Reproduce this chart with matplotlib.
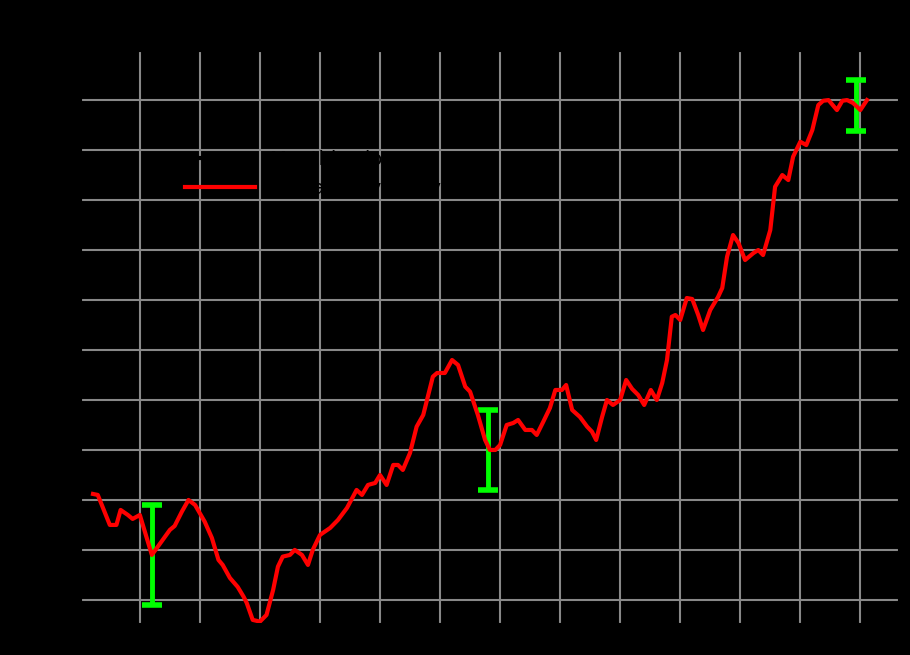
import matplotlib.pyplot as plt
from matplotlib.lines import Line2D

# smoothed index (decimal year, value)
years = [2007.22, 2007.30, 2007.50, 2007.61, 2007.68, 2007.80, 2007.88, 2008.00,
         2008.20, 2008.36, 2008.50, 2008.58, 2008.70, 2008.81, 2008.92, 2009.08,
         2009.20, 2009.31, 2009.38, 2009.50, 2009.63, 2009.73, 2009.78, 2009.88,
         2010.00, 2010.11, 2010.22, 2010.30, 2010.38, 2010.50, 2010.58, 2010.70,
         2010.80, 2010.88, 2011.00, 2011.17, 2011.30, 2011.45, 2011.61, 2011.70,
         2011.80, 2011.92, 2012.00, 2012.11, 2012.22, 2012.30, 2012.38, 2012.50,
         2012.61, 2012.72, 2012.88, 2012.95, 2013.08, 2013.20, 2013.30, 2013.42,
         2013.50, 2013.63, 2013.75, 2013.83, 2013.92, 2014.00, 2014.11, 2014.22,
         2014.30, 2014.42, 2014.53, 2014.61, 2014.72, 2014.83, 2014.92, 2015.03,
         2015.10, 2015.20, 2015.33, 2015.45, 2015.53, 2015.60, 2015.70, 2015.78,
         2015.88, 2016.00, 2016.10, 2016.20, 2016.30, 2016.40, 2016.51, 2016.61,
         2016.70, 2016.78, 2016.86, 2016.92, 2017.00, 2017.11, 2017.20, 2017.30,
         2017.38, 2017.50, 2017.63, 2017.70, 2017.78, 2017.88, 2017.97, 2018.08,
         2018.22, 2018.30, 2018.38, 2018.50, 2018.58, 2018.70, 2018.80, 2018.88,
         2019.00, 2019.10, 2019.20, 2019.30, 2019.38, 2019.47, 2019.61, 2019.70,
         2019.78, 2019.88, 2020.00, 2020.11]
values = [2060, 2050, 1750, 1750, 1900, 1850, 1810, 1850,
          1450, 1583, 1700, 1740, 1883, 2000, 1950, 1783,
          1620, 1400, 1350, 1220, 1130, 1030, 970, 800,
          783, 850, 1100, 1333, 1433, 1450, 1500, 1450,
          1350, 1500, 1650, 1720, 1800, 1920, 2100, 2050,
          2150, 2170, 2250, 2150, 2350, 2350, 2300, 2470,
          2733, 2850, 3233, 3270, 3270, 3400, 3350, 3133,
          3083, 2850, 2600, 2500, 2500, 2550, 2750, 2770,
          2800, 2700, 2700, 2650, 2783, 2920, 3100, 3100,
          3150, 2900, 2830, 2733, 2683, 2600, 2833, 3000,
          2950, 3000, 3200, 3110, 3050, 2950, 3100, 3000,
          3170, 3400, 3833, 3850, 3800, 4020, 4010, 3850,
          3700, 3900, 4030, 4120, 4433, 4650, 4570, 4400,
          4470, 4500, 4450, 4700, 5133, 5250, 5200, 5433,
          5583, 5550, 5700, 5950, 5993, 6000, 5900, 5993,
          6000, 5970, 5900, 6000]

# error bars
err_years = [2008.2, 2013.8, 2019.93]
err_values = [1450, 2500, 5950]
err_sizes = [500, 400, 255]

xticks = list(range(2008, 2021))
yticks = list(range(1000, 6001, 500))

fig = plt.figure(figsize=(9.1, 6.55), dpi=100, facecolor="black")
ax = fig.add_axes([0.089, 0.049, 0.898, 0.873], facecolor="black")

ax.grid(True, color="#888888", linewidth=1.5)
ax.set_axisbelow(True)

ax.errorbar(err_years, err_values, yerr=err_sizes, fmt="none", ecolor="#00ff00",
            elinewidth=3.5, capsize=7.5, capthick=4, zorder=2.5)
ax.plot(years, values, color="red", linewidth=3, zorder=3)

ax.set_xticks(xticks)
ax.set_yticks(yticks)
ax.set_xlim(2007.02, 2020.63)
ax.set_ylim(770, 6490)
ax.tick_params(colors="black", labelcolor="black", labelsize=8, pad=1, length=2)
for s in ax.spines.values():
    s.set_color("black")

ax.set_title("Stock index and 3-year moving average", color="black")
ax.set_xlabel("Year", color="black", fontsize=8, va="top")
ax.xaxis.set_label_coords(0.5, -0.028)
ax.set_ylabel("Index", color="black")

handles = [Line2D([], [], color="black", linewidth=3),
           Line2D([], [], color="red", linewidth=3)]
labels = ["Monthly close", "3-year moving average"]
leg = ax.legend(handles, labels, loc="upper left", bbox_to_anchor=(0.1175, 0.841),
                borderaxespad=0, frameon=False, fontsize=14, handlelength=3.6)
for t in leg.get_texts():
    t.set_color("black")

fig.savefig("out.png", dpi=100, facecolor="black")
